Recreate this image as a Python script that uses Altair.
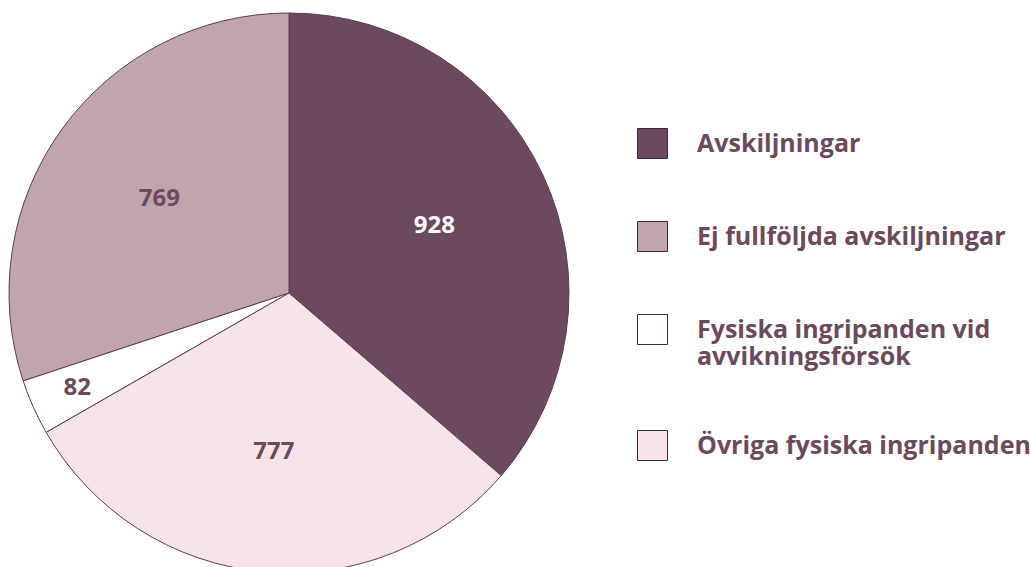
import math
import altair as alt
import pandas as pd

categories = [
    "Avskiljningar",
    "Ej fullföljda avskiljningar",
    "Fysiska ingripanden vid avvikningsförsök",
    "Övriga fysiska ingripanden",
]
values = [928, 769, 82, 777]
pie_order = [0, 3, 2, 1]  # clockwise from 12 o'clock
colors = ["#6b4a5f", "#c0a5ac", "#ffffff", "#f8e3e9"]
label_colors = ["#ffffff", "#6b4a5e", "#6b4a5e", "#6b4a5e"]

df = pd.DataFrame({
    "kategori": categories,
    "antal": values,
    "ordning": pie_order,
    "textfarg": label_colors,
})
total = sum(values)

CX, CY, R = 289, 293, 280
FONT = "Open Sans"
TXT = "#6b4a5e"

theta_scale = alt.Scale(domain=[0, total], range=[0, 2 * math.pi])

base = alt.Chart(df).transform_window(
    slut="sum(antal)", sort=[alt.SortField("ordning")], frame=[None, 0]
).transform_calculate(
    start="datum.slut - datum.antal",
    mitt="datum.slut - datum.antal / 2",
    lr="datum.antal < 200 ? 232 : 160",
)

arcs = base.mark_arc(
    outerRadius=R, stroke="#5a3d50", strokeWidth=1
).encode(
    x=alt.value(CX),
    y=alt.value(CY),
    theta=alt.Theta("start:Q", scale=theta_scale),
    theta2=alt.Theta2("slut:Q"),
    color=alt.Color(
        "kategori:N",
        scale=alt.Scale(domain=categories, range=colors),
        legend=alt.Legend(
            title=None,
            orient="none",
            legendX=637,
            legendY=128,
            padding=0,
            symbolType="square",
            symbolSize=900,
            symbolStrokeColor="#3d2a36",
            symbolStrokeWidth=1,
            labelFont=FONT,
            labelFontSize=25,
            labelFontWeight="bold",
            labelColor=TXT,
            labelOffset=29,
            labelLimit=600,
            rowPadding=58,
            labelExpr="datum.label == 'Fysiska ingripanden vid avvikningsförsök' ? ['Fysiska ingripanden vid', 'avvikningsförsök'] : datum.label",
        ),
    ),
)

labels = base.mark_text(
    font=FONT, fontSize=24, fontWeight="bold"
).encode(
    x=alt.value(CX),
    y=alt.value(CY),
    theta=alt.Theta("mitt:Q", scale=theta_scale),
    radius=alt.Radius("lr:Q", scale=None),
    text=alt.Text("antal:Q"),
    color=alt.Color("textfarg:N", scale=None),
)

chart = alt.layer(arcs, labels).properties(
    width=1030,
    height=567,
    padding=0,
    autosize=alt.AutoSizeParams(type="none"),
).configure_view(stroke=None)

chart.save("out.html", embed_options={"renderer": "svg", "actions": False})
